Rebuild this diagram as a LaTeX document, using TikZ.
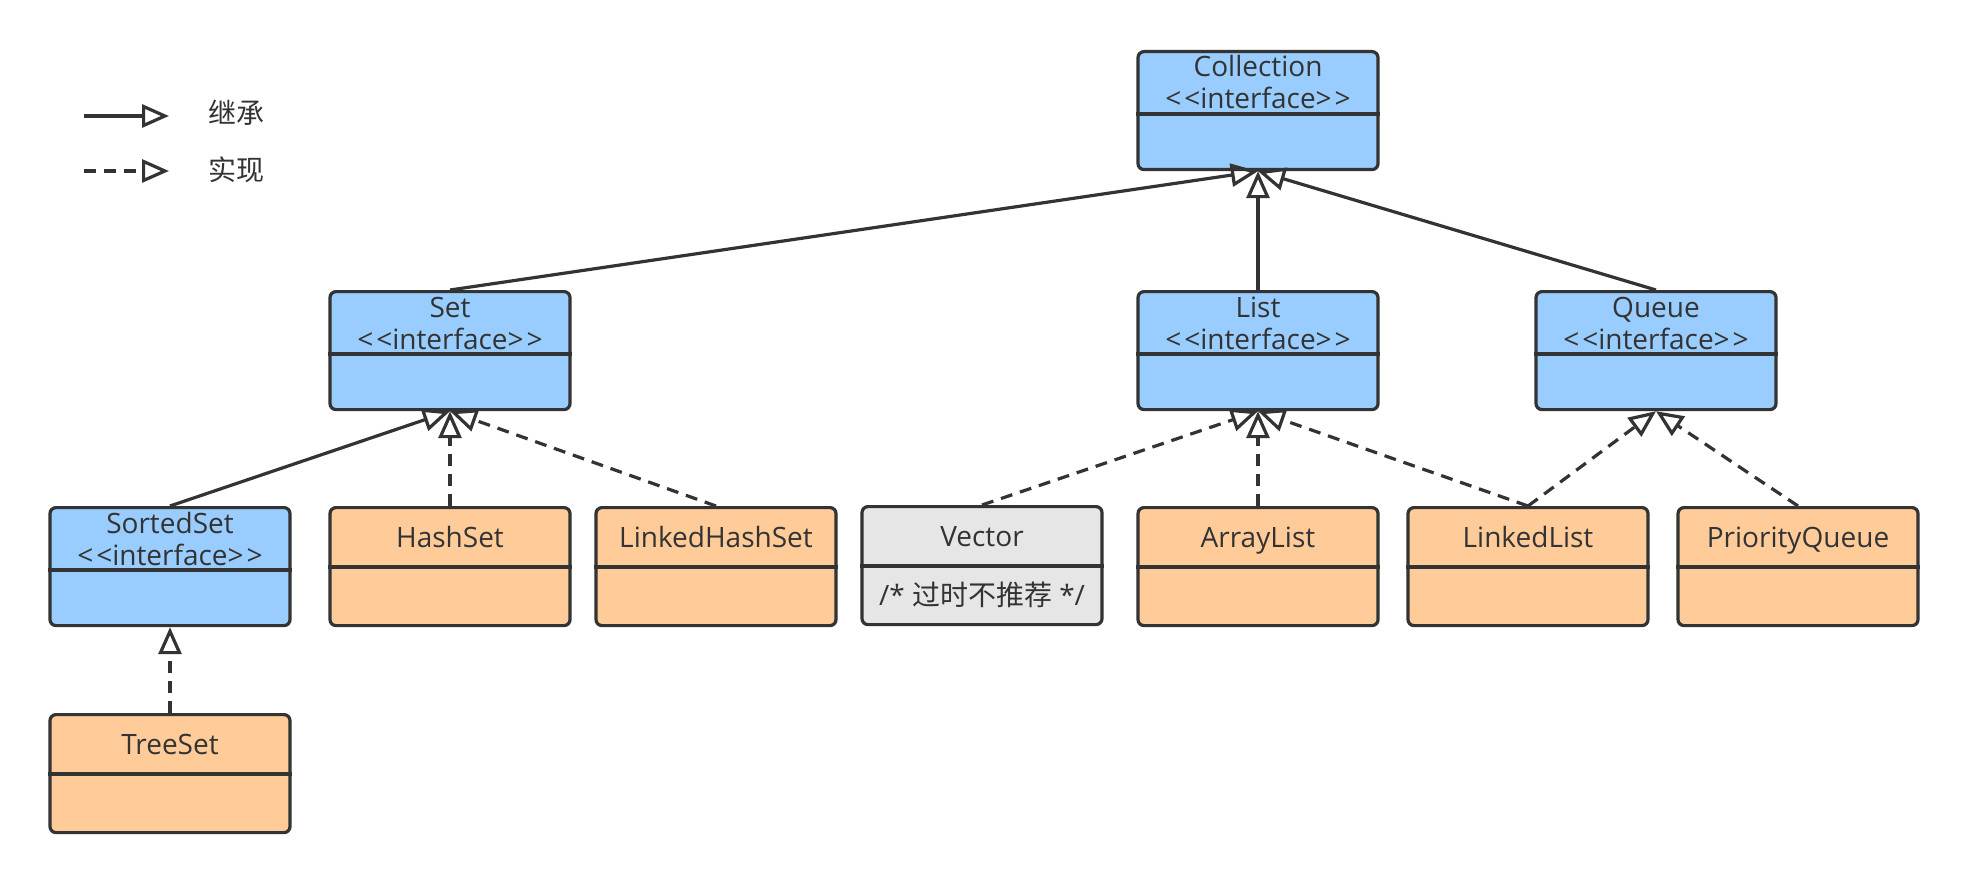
\documentclass[tikz,border=0pt]{standalone}
\usepackage{fontspec}
\setmainfont{Open Sans}
\newfontfamily\cjk{Noto Sans CJK SC}
\usetikzlibrary{arrows.meta,calc}
\definecolor{ink}{HTML}{333333}
\definecolor{ifblue}{HTML}{99CCFF}
\definecolor{clorange}{HTML}{FFCC99}
\definecolor{oldgray}{HTML}{E6E6E6}
\newcommand\ifacebox[4]{%
  \node[box, fill=ifblue] (#1) at (#2,#3) {};
  \draw[ink, line width=3.2pt] ($(#1.north west)+(0,64)$) -- ($(#1.north east)+(0,64)$);
  \node[txt] (#1-t) at ($(#1.north)+(0,20)$) {#4};
  \node[txt] (#1-s) at ($(#1.north)+(0,52)$) {<\kern3pt<interface>\kern3pt>};
}
\newcommand\classbox[5]{%
  \node[box, fill=#4] (#1) at (#2,#3) {};
  \draw[ink, line width=3.2pt] ($(#1.north west)+(0,61)$) -- ($(#1.north east)+(0,61)$);
  \node[txt] (#1-t) at ($(#1.north)+(0,34)$) {#5};
}
\begin{document}
\begin{tikzpicture}[x=1pt,y=-1pt,
  box/.style={draw=ink, line width=3.2pt, rounded corners=6pt, minimum width=240pt, minimum height=118pt, inner sep=0pt, anchor=north},
  txt/.style={text=ink, font=\fontsize{28}{34}\selectfont, inner sep=0pt, text height=20pt, text depth=6pt, anchor=center},
  cjktxt/.style={txt, font=\cjk\fontsize{28}{34}\selectfont},
  inh/.style={draw=ink, line width=3.2pt, -{Triangle[open,length=27pt,width=23pt]}},
  impl/.style={inh, dash pattern=on 12pt off 8pt}]
\fill[white] (0,0) rectangle (1968,880);
\useasboundingbox (0,0) rectangle (1968,880);

% legend
\coordinate (la1) at (84,116);
\coordinate (lb1) at (169,116);
\coordinate (la2) at (84,171);
\coordinate (lb2) at (169,171);
\draw[inh] (la1) -- (lb1);
\draw[impl] (la2) -- (lb2);
\node[cjktxt] (lt1) at (236,117) {继承};
\node[cjktxt] (lt2) at (236,173) {实现};

% boxes
\ifacebox{collection}{1258}{50}{Collection}
\ifacebox{set}{450}{290}{Set}
\ifacebox{list}{1258}{290}{List}
\ifacebox{queue}{1656}{290}{Queue}
\ifacebox{sortedset}{170}{506}{SortedSet}
\classbox{hashset}{450}{506}{clorange}{HashSet}
\classbox{linkedhashset}{716}{506}{clorange}{LinkedHashSet}
\classbox{vector}{982}{505}{oldgray}{Vector}
\node[txt] (vector-b) at ($(vector.north)+(0,93)$) {/* {\cjk 过时不推荐} */};
\classbox{arraylist}{1258}{506}{clorange}{ArrayList}
\classbox{linkedlist}{1528}{506}{clorange}{LinkedList}
\classbox{priorityqueue}{1798}{506}{clorange}{PriorityQueue}
\classbox{treeset}{170}{713}{clorange}{TreeSet}

% connectors
\draw[inh] (set.north) -- (collection.south);
\draw[inh] (list.north) -- (collection.south);
\draw[inh] (queue.north) -- (collection.south);
\draw[inh] (sortedset.north) -- (set.south);
\draw[impl] (hashset.north) -- (set.south);
\draw[impl] (linkedhashset.north) -- (set.south);
\draw[impl] (vector.north) -- (list.south);
\draw[impl] (arraylist.north) -- (list.south);
\draw[impl] (linkedlist.north) -- (list.south);
\draw[impl] (linkedlist.north) -- (queue.south);
\draw[impl] (priorityqueue.north) -- (queue.south);
\draw[impl] (treeset.north) -- (sortedset.south);
\end{tikzpicture}
\end{document}
